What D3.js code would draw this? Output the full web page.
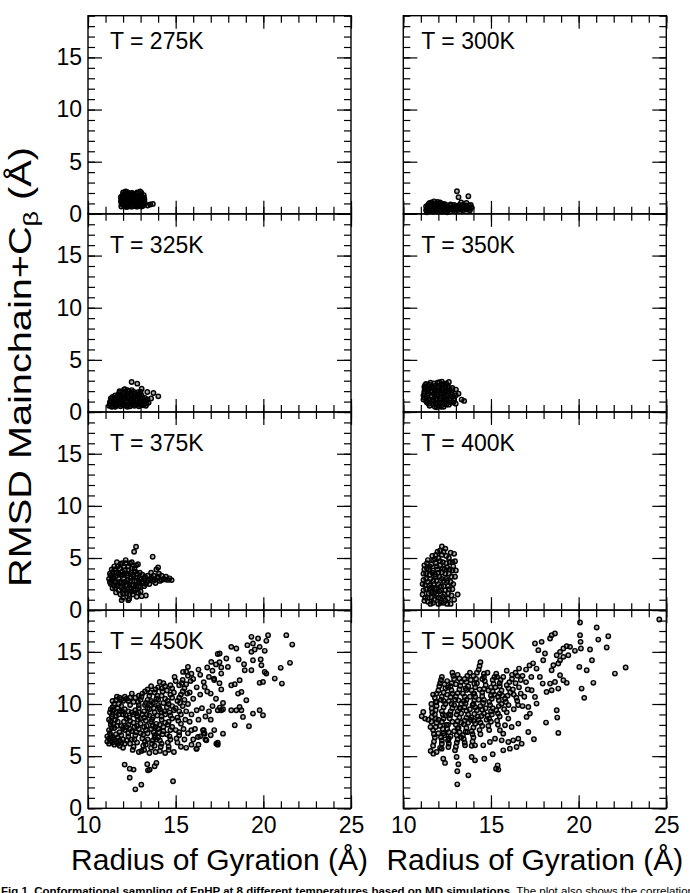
<!DOCTYPE html>
<html>
<head>
<meta charset="utf-8">
<script src="https://cdn.jsdelivr.net/npm/d3@7"></script>
<style>
  body { margin: 0; background: #fff; }
  svg { display: block; font-family: 'Liberation Sans', Arial, Helvetica, sans-serif; }
</style>
</head>
<body>
<svg id="chart" width="690" height="893"></svg>
<script>
const temps = ['275K', '300K', '325K', '350K', '375K', '400K', '450K', '500K']
const xMajor = [10, 15, 20, 25]
const xMinor = [10, 11, 12, 13, 14, 15, 16, 17, 18, 19, 20, 21, 22, 23, 24, 25]
const yMajor = [0, 5, 10, 15]
const yMinor = [0, 1, 2, 3, 4, 5, 6, 7, 8, 9, 10, 11, 12, 13, 14, 15, 16, 17, 18, 19]

// radius of gyration (A), rmsd (A)
const pts275 = [
  [11.9,0.7],[11.9,1.05],[11.92,1.4],[11.95,1.75],[12.0,2.05],
  [12.05,0.8],[12.08,1.2],[12.1,1.55],[12.12,1.9],[12.15,2.15],
  [12.22,0.65],[12.25,1.0],[12.2,1.35],[12.27,1.7],[12.3,2.0],
  [12.38,0.85],[12.4,1.2],[12.36,1.5],[12.42,1.85],
  [12.52,0.7],[12.55,1.05],[12.5,1.4],[12.58,1.7],[12.55,1.95],
  [12.68,0.8],[12.7,1.15],[12.66,1.5],[12.72,1.8],
  [12.82,0.7],[12.85,1.0],[12.8,1.35],[12.88,1.65],[12.85,2.0],
  [12.97,0.85],[13.0,1.2],[12.95,1.5],[13.02,1.85],[12.98,2.15],
  [13.12,0.75],[13.15,1.1],[13.1,1.45],[13.18,1.8],
  [13.25,1.0],[13.22,1.35],[13.55,0.9],[13.7,0.95],[13.4,0.8],
  [11.97,0.9],[11.98,1.25],[12.0,1.6],[12.03,1.9],[12.12,0.7],[12.15,1.05],[12.17,1.4],[12.2,1.75],
  [12.22,2.1],[12.3,0.8],[12.32,1.15],[12.3,1.5],[12.35,1.85],[12.45,0.7],[12.47,1.0],[12.45,1.35],
  [12.48,1.65],[12.5,2.0],[12.6,0.85],[12.62,1.2],[12.6,1.55],[12.63,1.9],[12.75,0.7],[12.77,1.05],
  [12.75,1.4],[12.78,1.7],[12.8,2.05],[12.9,0.8],[12.92,1.15],[12.9,1.45],[12.93,1.8],[13.05,0.7],
  [13.07,1.0],[13.05,1.35],[13.08,1.65],[13.05,2.0],[13.2,0.9],[13.2,1.55],[11.88,1.25],[11.87,1.6]
]

const pts300 = [
  [11.3,0.35],[11.3,0.7],[11.4,0.5],[11.45,0.95],[11.5,0.3],[11.55,0.7],[11.6,1.1],[11.65,0.45],
  [11.7,0.85],[11.75,1.2],[11.8,0.3],[11.85,0.65],[11.9,1.0],[12.0,0.45],[12.0,0.8],[12.1,1.1],
  [12.15,0.3],[12.2,0.65],[12.3,0.95],[12.35,0.4],[12.45,0.7],[12.55,0.35],[12.6,0.65],[12.7,0.9],
  [12.75,0.45],[12.85,0.7],[12.95,0.4],[13.0,0.75],[13.1,0.5],[13.2,0.85],[13.25,0.4],[13.35,0.7],
  [13.45,0.5],[13.55,0.8],[13.6,0.4],[13.7,0.65],[13.8,0.5],[13.85,0.85],[13.06,2.17],[13.15,1.6],
  [13.71,1.69],[13.3,1.1],[13.6,1.05],[11.35,0.15],[11.95,0.2],[12.5,0.15],
  [11.35,0.5],[11.4,0.8],[11.5,0.5],[11.5,1.05],[11.6,0.3],[11.6,0.85],[11.7,0.6],[11.75,1.0],
  [11.8,0.5],[11.9,0.35],[11.9,0.8],[11.95,1.15],[12.05,0.6],[12.05,1.0],[12.15,0.85],[12.25,0.45],
  [12.25,0.8],[12.4,0.55],[12.4,0.9],[12.5,0.5],[12.6,0.45],[12.65,0.8],[12.8,0.55],[12.9,0.55],
  [12.9,0.85],[13.05,0.6],[13.15,0.4],[13.15,0.7],[13.3,0.55],[13.4,0.35],[13.4,0.85],[13.5,0.65],
  [13.65,0.5],[13.75,0.8],[13.8,0.35],[13.9,0.6],[11.7,0.2],[12.2,0.2],[12.7,0.25],[13.0,0.25]
]

const pts325 = [
  [11.2,0.6],[11.25,0.95],[11.3,1.3],[11.4,0.55],[11.45,0.9],[11.5,1.25],[11.55,1.6],[11.6,0.6],
  [11.65,0.95],[11.7,1.35],[11.75,1.7],[11.8,2.0],[11.85,0.55],[11.9,0.9],[11.95,1.25],[12.0,1.6],
  [12.05,1.95],[12.1,2.2],[12.15,0.6],[12.2,0.95],[12.25,1.3],[12.3,1.65],[12.35,2.0],[12.4,0.55],
  [12.45,0.9],[12.5,1.25],[12.55,1.6],[12.6,1.95],[12.65,0.6],[12.7,0.95],[12.75,1.3],[12.8,1.65],
  [12.85,1.9],[12.9,0.55],[12.95,0.9],[13.0,1.25],[13.05,1.6],[13.15,0.65],[13.2,1.0],[13.25,1.35],
  [13.35,0.8],[13.4,1.2],[12.49,2.88],[12.81,2.72],[13.06,2.24],[13.38,1.92],[13.73,1.82],[14.01,1.5],
  [13.46,0.9],[13.6,1.3],
  [11.25,0.75],[11.3,1.1],[11.35,0.5],[11.4,1.45],[11.45,0.75],[11.5,1.05],[11.55,0.5],[11.6,1.4],
  [11.65,0.75],[11.7,1.15],[11.7,1.55],[11.8,0.7],[11.8,1.85],[11.85,1.1],[11.9,1.45],[11.95,0.7],
  [12.0,1.05],[12.0,1.8],[12.05,2.15],[12.1,0.75],[12.1,1.4],[12.2,1.1],[12.2,1.8],[12.25,0.5],
  [12.25,2.1],[12.3,1.45],[12.35,0.75],[12.4,1.1],[12.45,1.8],[12.5,0.7],[12.5,2.1],[12.55,1.4],
  [12.6,1.1],[12.7,0.75],[12.7,1.75],[12.75,1.5],[12.8,1.1],[12.85,0.7],[12.9,1.45],[12.95,1.75],
  [13.0,0.7],[13.05,1.05],[13.1,1.4],[13.2,0.8],[13.3,1.1],[13.3,0.6],[13.0,1.95]
]

const pts350 = [
  [11.15,1.2],[11.15,1.6],[11.2,2.0],[11.2,2.4],[11.3,2.7],[11.35,0.9],[11.35,1.4],[11.4,1.8],
  [11.45,2.2],[11.5,2.6],[11.5,0.6],[11.6,1.0],[11.6,1.5],[11.65,1.9],[11.7,2.3],[11.75,2.75],
  [11.8,0.5],[11.85,0.85],[11.85,1.3],[11.9,1.7],[11.95,2.1],[12.0,2.5],[12.05,2.85],[12.05,0.6],
  [12.1,1.05],[12.15,1.5],[12.2,1.9],[12.25,2.3],[12.3,2.7],[12.3,0.5],[12.35,0.9],[12.4,1.3],
  [12.45,1.7],[12.5,2.1],[12.55,2.5],[12.6,0.7],[12.65,1.1],[12.7,1.5],[12.75,1.9],[12.6,2.88],
  [12.8,2.3],[12.85,0.9],[12.9,1.3],[13.0,2.15],[13.15,1.76],[13.33,1.19],[13.47,1.06],[12.99,0.8],
  [13.0,1.6],
  [11.2,1.4],[11.2,1.8],[11.25,2.2],[11.25,2.6],[11.3,1.05],[11.4,1.6],[11.4,2.0],[11.4,2.5],
  [11.45,0.8],[11.45,1.2],[11.55,2.0],[11.55,2.8],[11.6,2.4],[11.7,0.8],[11.7,1.2],[11.75,1.7],
  [11.8,2.1],[11.8,2.5],[11.9,0.7],[11.9,1.1],[11.95,1.5],[11.95,2.8],[12.0,1.9],[12.05,2.3],
  [12.1,0.8],[12.1,1.3],[12.15,1.7],[12.2,2.1],[12.2,2.6],[12.3,1.1],[12.3,1.5],[12.35,1.9],
  [12.4,2.4],[12.45,0.7],[12.45,1.1],[12.5,1.5],[12.55,1.9],[12.6,2.3],[12.7,0.9],[12.7,1.3],
  [12.75,1.7],[12.8,2.1],[12.9,1.1],[12.85,1.5],[12.45,2.75],[12.2,2.9],[11.9,0.45],[12.15,0.5]
]

const pts375 = [
  [11.2,3.0],[11.25,3.5],[11.3,2.5],[11.35,3.9],[11.4,2.1],[11.45,3.2],[11.5,4.2],[11.55,2.7],
  [11.6,1.7],[11.6,3.6],[11.65,4.6],[11.7,2.3],[11.75,3.0],[11.8,4.0],[11.85,1.5],[11.9,2.6],
  [11.9,3.4],[11.95,4.5],[12.0,1.2],[12.0,2.0],[12.05,3.0],[12.1,3.8],[12.15,4.8],[12.2,1.6],
  [12.2,2.4],[12.25,3.3],[12.3,4.2],[12.35,1.1],[12.4,2.0],[12.4,2.8],[12.45,3.6],[12.5,4.6],
  [12.55,1.5],[12.6,2.4],[12.6,3.2],[12.65,4.0],[12.7,1.9],[12.75,2.8],[12.8,3.5],[12.85,4.4],
  [12.9,2.3],[12.95,3.1],[13.0,1.8],[13.05,2.7],[13.1,3.4],[13.2,2.3],[13.2,3.0],
  [13.35,2.7],[13.4,3.3],[13.5,2.5],[13.55,3.0],[13.6,3.6],[13.7,2.8],[13.75,3.3],[13.85,2.6],
  [13.9,3.9],[13.95,3.1],[14.05,3.5],[14.1,2.8],[14.2,3.3],[14.3,3.0],[14.45,3.2],[14.55,2.9],
  [14.77,2.88],[14.0,4.1],[12.74,6.08],[12.63,5.6],[13.69,5.12],[12.78,1.28],[13.06,1.34],[13.3,1.4],
  [11.92,0.96],[12.3,0.96],
  [11.25,2.7],[11.3,3.3],[11.35,2.9],[11.4,3.6],[11.45,2.4],[11.5,3.0],[11.5,3.9],[11.55,2.1],
  [11.6,3.3],[11.65,2.5],[11.7,4.2],[11.75,1.9],[11.75,3.5],[11.8,2.7],[11.85,4.4],[11.9,2.2],
  [11.95,3.7],[12.0,1.6],[12.0,2.5],[12.05,3.4],[12.05,4.2],[12.1,1.9],[12.1,2.7],[12.15,4.5],
  [12.2,3.5],[12.25,2.0],[12.25,2.9],[12.3,3.8],[12.35,1.5],[12.35,2.5],[12.4,4.5],[12.45,3.1],
  [12.5,1.8],[12.5,2.4],[12.5,4.0],[12.55,3.4],[12.6,2.0],[12.65,2.8],[12.7,3.7],[12.75,2.3],
  [12.75,4.3],[12.8,3.1],[12.85,1.7],[12.9,2.7],[12.95,3.6],[13.0,2.2],[13.05,3.0],[13.15,2.6],
  [13.25,3.2],[13.3,2.5],[13.45,2.85],[13.65,3.1],[13.8,2.9],[14.0,3.2],[14.2,2.9],[14.4,2.95],
  [14.65,3.05]
]

const pts400 = [
  [11.1,1.5],[11.1,2.5],[11.15,3.5],[11.2,4.3],[11.2,0.9],[11.3,2.0],[11.3,3.0],[11.35,4.0],
  [11.4,4.8],[11.4,1.2],[11.5,2.4],[11.5,3.4],[11.55,0.6],[11.6,1.7],[11.6,4.4],[11.65,5.2],
  [11.7,2.8],[11.7,3.8],[11.75,1.0],[11.8,2.1],[11.8,4.9],[11.85,3.2],[11.9,1.5],[11.9,4.2],
  [11.95,5.6],[12.0,0.6],[12.0,2.5],[12.0,3.6],[12.1,1.1],[12.1,4.7],[12.15,1.9],[12.2,3.0],
  [12.2,5.3],[12.25,4.0],[12.3,0.7],[12.3,2.3],[12.35,1.5],[12.4,3.5],[12.4,5.9],[12.45,4.5],
  [12.5,2.8],[12.55,1.1],[12.6,5.0],[12.6,2.0],[12.65,3.9],[12.75,3.2],[12.8,4.6],[12.85,2.5],
  [12.9,5.4],[13.0,3.8],[12.2,6.1],[12.7,0.6],[13.1,1.5],[12.9,1.0],
  [11.15,1.9],[11.15,2.9],[11.2,3.9],[11.25,1.2],[11.25,2.4],[11.3,3.5],[11.35,4.5],[11.4,0.8],
  [11.4,2.7],[11.45,1.6],[11.45,3.9],[11.5,2.0],[11.5,4.2],[11.55,3.0],[11.6,1.2],[11.6,2.2],
  [11.65,3.6],[11.7,4.8],[11.7,0.7],[11.75,1.6],[11.75,2.5],[11.8,3.4],[11.85,4.5],[11.85,5.3],
  [11.9,2.0],[11.9,2.8],[11.95,3.9],[12.0,1.2],[12.0,5.0],[12.05,1.8],[12.05,3.2],[12.1,4.3],
  [12.1,5.7],[12.15,2.3],[12.15,0.7],[12.2,3.6],[12.25,1.3],[12.25,4.6],[12.3,2.8],[12.3,5.6],
  [12.35,3.9],[12.4,1.9],[12.4,0.9],[12.45,3.0],[12.45,5.2],[12.5,4.1],[12.55,2.3],[12.55,1.6],
  [12.6,3.5],[12.65,4.6],[12.7,2.7],[12.75,1.4],[12.8,3.8],[12.85,4.2],[12.95,3.2],[12.7,5.5],
  [12.95,4.7],[12.5,0.6],[12.8,2.0]
]

const pts450 = [
  [11.1,6.4],[11.2,6.2],[11.2,6.7],[11.3,6.5],[11.4,6.3],[11.4,6.8],[11.5,6.1],[11.5,6.6],
  [11.6,6.4],[11.7,6.2],[11.7,6.8],[11.8,6.5],[11.9,6.3],[12.0,6.6],[12.1,6.2],[12.2,6.5],
  [11.3,7.0],[11.6,7.1],[11.9,7.0],[12.3,6.9],[11.1,6.9],[12.4,6.2],[11.8,6.0],[12.0,5.8],
  [11.2,7.5],[11.3,8.0],[11.2,8.5],[11.4,9.0],[11.3,9.5],[11.5,10.0],[11.6,10.4],[11.8,10.6],
  [12.0,10.3],[12.2,10.5],[12.4,10.6],[11.5,7.7],[11.7,8.3],[11.6,8.8],[11.8,9.3],[11.9,9.8],
  [12.1,9.5],[12.0,9.0],[12.2,8.6],[12.3,8.0],[12.1,7.5],[11.9,7.9],[12.4,9.9],[12.5,9.2],
  [11.4,9.7],[11.7,9.6],[12.6,10.2],[12.7,10.6],
  [12.6,5.9],[12.8,6.3],[12.7,7.0],[12.9,7.6],[12.6,8.2],[12.8,8.8],[12.7,9.4],[12.9,9.9],[13.0,10.4],[13.1,11.0],
  [13.2,5.6],[13.3,6.1],[13.1,6.7],[13.4,7.2],[13.2,7.8],[13.3,8.4],[13.1,9.0],[13.4,9.6],[13.3,10.1],[13.5,10.8],[13.4,11.4],
  [13.6,5.8],[13.7,6.5],[13.8,7.0],[13.6,7.6],[13.9,8.1],[13.7,8.7],[13.8,9.2],[13.6,9.9],[13.9,10.5],[13.8,11.1],[14.0,11.6],
  [14.1,5.5],[14.2,6.2],[14.0,6.8],[14.3,7.4],[14.1,8.0],[14.2,8.5],[14.4,9.0],[14.1,9.5],[14.3,10.1],[14.2,10.8],[14.5,11.3],[14.3,12.0],
  [14.6,5.9],[14.7,6.6],[14.5,7.1],[14.8,7.8],[14.6,8.3],[14.7,8.9],[14.9,9.4],[14.6,10.0],[14.8,10.6],[14.9,11.1],[14.7,11.8],[15.0,12.2],
  [15.1,6.3],[15.2,7.0],[15.0,7.5],[15.3,8.1],[15.1,8.7],[15.2,9.3],[15.4,9.8],[15.1,10.3],[15.3,10.9],[15.5,11.5],[15.4,12.3],[15.7,12.7],
  [12.9,5.4],[13.5,5.3],[14.4,5.3],[14.9,5.4],[13.0,8.1],[13.5,8.9],[14.0,9.9],[14.4,8.2],[13.8,6.0],[12.5,7.4],
  [12.4,8.4],[12.6,9.0],[12.9,9.2],[13.2,9.3],[13.5,9.5],[13.6,8.3],[13.0,8.6],[12.8,7.9],[13.3,7.5],[13.0,7.2],
  [13.7,7.9],[14.0,7.6],[13.9,6.6],[13.4,6.6],[12.5,6.6],[12.3,7.2],[12.2,7.8],[14.2,9.2],[14.5,9.7],[14.0,10.4],
  [13.6,10.3],[12.9,10.8],[12.5,11.0],[13.6,11.7],[14.2,11.5],
  [11.25,7.2],[11.35,7.7],[11.3,8.3],[11.35,8.8],[11.25,9.2],[11.45,9.4],[11.4,10.3],[11.65,10.7],[11.9,10.45],
  [12.1,10.7],[12.3,10.3],[11.45,8.1],[11.55,8.5],[11.75,9.0],[11.6,9.2],[11.75,10.0],[11.95,9.3],[12.05,8.3],
  [12.15,8.9],[12.3,9.3],[12.35,8.7],[12.4,7.6],[11.8,7.3],[11.65,7.9],[12.0,7.7],
  [12.65,6.6],[12.75,7.3],[12.65,7.8],[12.85,8.5],[12.75,9.1],[12.9,9.6],[12.85,10.2],[13.05,10.7],[13.25,11.2],
  [13.15,6.0],[13.25,6.4],[13.15,7.05],[13.35,7.9],[13.2,8.7],[13.35,9.0],[13.25,9.9],[13.4,10.4],[13.55,11.1],
  [13.65,6.2],[13.8,6.8],[13.75,7.3],[13.85,7.8],[13.65,8.5],[13.95,8.9],[13.75,9.6],[13.7,10.1],[13.95,10.8],[13.85,11.4],
  [14.15,5.9],[14.1,6.5],[14.25,7.1],[14.05,7.3],[14.3,7.8],[14.2,8.8],[14.35,9.3],[14.05,9.7],[14.4,10.5],[14.25,11.2],[14.4,11.7],
  [14.55,6.3],[14.65,6.9],[14.7,7.5],[14.55,8.0],[14.8,8.6],[14.65,9.2],[14.8,9.8],[14.55,10.3],[14.7,10.9],[14.8,11.5],
  [15.05,6.7],[15.2,7.3],[15.15,8.4],[15.3,9.0],[15.0,9.6],[15.25,10.1],[15.2,10.6],[15.4,11.2],[15.2,11.8],[15.35,12.0],
  [15.5,6.6],[15.45,7.6],[15.55,8.5],[15.6,9.3],[15.5,10.4],[15.65,11.0],[15.6,11.9],[15.85,12.2],
  [12.55,5.6],[13.05,5.5],[13.85,5.4],[14.6,5.6],[15.3,5.9],
  [15.6,5.8],[15.9,6.1],[16.2,5.7],[16.0,6.6],[16.4,6.9],[15.7,7.2],[16.1,7.6],[16.6,7.5],[15.8,8.3],[16.3,8.5],
  [16.7,8.8],[15.9,9.0],[16.2,9.4],[16.5,9.6],[16.9,9.3],[15.7,10.0],[16.0,10.5],[16.4,10.9],[16.8,11.2],[15.8,11.1],
  [16.2,11.6],[16.6,12.1],[16.0,12.4],[16.4,12.8],[16.9,12.6],[17.1,13.2],[17.3,13.8],[16.8,13.5],[17.5,14.0],[17.4,14.8],
  [17.6,13.5],[17.2,12.3],[17.5,12.0],[17.0,11.0],[17.3,10.5],[17.6,11.4],[17.1,9.8],[17.4,9.4],[17.7,9.5],[17.0,8.5],
  [17.2,7.5],[17.0,7.0],[16.6,7.2],[17.4,6.3],[16.7,6.6],[16.3,6.1],[17.4,6.1],[15.9,12.9],[16.3,13.3],[15.6,13.1],
  [19.32,16.44],[19.70,16.28],[20.27,16.6],[20.17,16.06],[21.31,16.6],[21.65,15.7],[21.52,13.95],[20.99,13.47],
  [21.06,11.96],[20.65,12.44],[20.17,12.92],[20.08,13.08],[19.98,12.12],[19.79,12.03],[19.89,13.72],[19.85,14.27],
  [20.08,15.1],[19.79,15.48],[19.51,15.23],[19.32,15.0],[19.09,15.64],[19.41,15.8],[18.46,15.32],[18.17,15.48],
  [18.59,14.27],[18.94,13.24],[18.9,13.82],[19.41,14.2],[19.32,13.24],[18.65,12.28],[18.37,11.9],[18.17,11.8],
  [18.75,11.16],[18.56,11.0],[19.03,10.36],[17.7,10.1],[17.51,9.66],[17.6,9.4],[18.17,9.4],[18.46,9.4],
  [18.75,9.4],[18.84,8.76],[18.65,9.72],[19.41,9.08],[19.79,9.4],[19.98,8.92],[18.37,7.96],[19.18,7.87],
  [17.7,7.16],[17.32,6.2],[16.75,6.52],[16.56,7.48],[16.65,7.16],[16.27,6.84],[16.18,5.72],[15.89,7.48],
  [17.03,14.04],[17.51,14.84],[17.89,14.36],[17.98,13.56],[17.6,12.92],[17.19,12.44],[16.65,11.64],[15.7,13.56],
  [15.42,13.08],[14.94,12.6],[14.09,12.12],
  [12.09,4.19],[12.38,3.8],[12.6,3.71],[12.38,2.94],[12.7,1.82],[13.04,2.27],[14.85,2.59],[13.42,3.64],
  [13.52,3.71],[13.38,4.22],[13.9,4.35],[13.8,4.03]
]

const pts500 = [
  [24.6,18.1],[20.08,17.82],[21.03,17.34],[21.12,16.18],[21.69,16.5],[21.6,15.42],[20.76,14.2],[20.65,15.23],
  [20.08,16.6],[20.11,15.96],[20.13,15.32],[19.79,15.1],[20.04,13.56],[20.46,13.24],[20.17,11.48],[20.32,10.59],
  [20.84,12.03],[22.07,12.92],[22.68,13.5],[18.65,16.76],[18.46,16.6],[18.37,16.28],[19.51,15.48],[19.32,15.55],
  [19.13,15.32],[18.94,15.0],[18.75,14.68],[19.13,14.52],[19.41,14.68],[18.94,14.2],[18.84,13.88],[18.56,13.72],
  [18.46,13.24],[18.94,12.76],[18.65,12.12],[19.13,12.28],[19.32,12.03],[18.37,11.96],[18.84,11.48],[18.46,11.32],
  [18.17,11.16],[18.75,9.4],[18.78,8.7],[18.84,7.23],[18.14,8.22],[17.45,6.62],[17.89,15.96],[17.51,15.8],
  [17.7,15.16],[18.08,14.84],[17.98,14.2],[17.6,13.4],[17.79,12.6],[17.95,11.96],[17.32,11.32],[17.51,10.68],
  [17.6,10.04],[17.13,9.72],[17.22,9.08],[17.03,8.76],[17.13,7.32],[16.56,6.68],[16.75,6.2],[16.46,5.88],
  [16.08,5.72],[16.27,6.52],[15.7,5.56],[15.61,6.52],[15.7,7.16],[15.8,7.96],[15.51,7.48],[15.99,8.6],
  [16.56,8.12],[16.18,7.8],
  [15.38,4.12],[15.29,3.8],[15.42,3.71],[13.71,3.16],[13.08,3.55],[13.08,2.3],[13.14,4.22],[13.04,4.92],
  [14.62,4.76],[15.1,5.18],[14.09,4.6],[13.9,4.92],[12.38,4.35],[12.28,4.76],[11.71,5.24],[11.56,5.5],
  [11.9,5.4],[12.19,5.72],[12.57,5.88],[12.95,5.56],[13.52,6.04],[14.09,6.04],[14.56,6.04],[14.94,6.36],
  [15.23,6.68],[15.99,6.36],
  [11.05,8.83],[11.24,8.6],[11.43,8.5],[11.62,8.76],[11.14,9.24],[11.62,9.56],
  [11.7,6.0],[11.8,6.8],[11.7,7.5],[11.9,8.2],[11.8,9.0],[11.9,9.8],[11.8,10.6],[12.0,11.3],[12.1,12.0],[12.2,12.6],
  [12.1,5.8],[12.2,6.5],[12.3,7.2],[12.1,7.9],[12.3,8.6],[12.2,9.3],[12.4,10.0],[12.2,10.7],[12.4,11.5],[12.5,12.2],
  [12.6,6.2],[12.7,6.9],[12.5,7.6],[12.8,8.3],[12.6,9.0],[12.8,9.6],[12.6,10.3],[12.8,11.0],[12.7,11.7],[12.9,12.4],[12.8,13.0],
  [13.0,5.9],[13.1,6.6],[13.2,7.3],[13.0,8.0],[13.2,8.7],[13.1,9.3],[13.3,10.0],[13.0,10.7],[13.2,11.4],[13.3,12.1],[13.1,12.8],
  [13.5,6.3],[13.4,7.0],[13.6,7.7],[13.5,8.4],[13.7,9.0],[13.5,9.7],[13.6,10.4],[13.4,11.0],[13.7,11.7],[13.5,12.4],[13.8,13.0],
  [13.9,6.0],[14.0,6.8],[13.9,7.4],[14.1,8.1],[13.9,8.7],[14.2,9.4],[14.0,10.0],[14.1,10.7],[13.9,11.3],[14.2,12.0],[14.0,12.7],[14.3,13.3],[14.4,14.0],
  [14.4,7.1],[14.5,7.9],[14.3,8.5],[14.6,9.1],[14.4,9.8],[14.6,10.4],[14.5,11.1],[14.7,11.8],[14.5,12.4],[14.8,13.0],
  [14.9,7.5],[15.0,8.3],[14.8,8.9],[15.1,9.6],[14.9,10.2],[15.2,10.9],[15.0,11.6],[15.1,12.3],[15.3,12.9],
  [15.4,8.0],[15.5,8.8],[15.3,9.4],[15.6,10.0],[15.4,10.7],[15.6,11.3],[15.5,12.0],[15.7,12.6],[15.9,13.2],
  [15.9,9.2],[16.0,9.9],[15.8,10.5],[16.1,11.1],[15.9,11.8],[16.2,12.4],[16.4,13.0],[16.6,13.4],
  [16.3,9.5],[16.5,10.3],[16.3,10.9],[16.6,11.6],[16.4,12.0],[16.8,12.7],[17.0,13.3],[17.2,13.7],[17.4,13.9],
  [16.8,9.8],[16.9,10.7],[17.1,11.4],[17.0,12.1],[17.3,12.6],
  [12.4,8.9],[12.9,9.9],[13.3,9.1],[13.8,9.5],[13.3,8.2],[12.9,7.4],[13.7,8.2],[14.3,10.4],[13.8,10.7],[12.5,10.9],
  [13.0,11.9],[14.6,12.9],[14.1,11.6],[15.0,10.8],[14.7,9.6],[12.0,8.5],[12.3,9.7],[11.9,10.2],[12.6,6.7],[13.3,6.8],
  [12.2,6.2],[12.0,7.2],
  [12.35,7.0],[12.45,8.0],[12.65,8.6],[12.75,10.0],[12.95,10.4],[13.15,7.7],[13.25,9.6],[13.45,10.3],[13.55,11.5],
  [13.65,7.3],[13.85,8.5],[13.95,9.9],[14.05,11.0],[14.25,8.8],[14.35,11.4],[14.55,10.1],[14.75,8.5],[14.85,11.3],
  [15.05,9.0],[15.25,11.6],[15.45,9.8],[15.65,10.8],[12.15,10.4],[12.55,11.6],[13.85,12.3],[14.65,12.2],[15.35,12.6],
  [11.75,6.4],[11.75,7.1],[11.85,7.8],[11.85,8.6],[11.85,9.4],[11.85,10.2],[11.9,11.0],[12.05,11.7],[12.15,12.3],
  [12.15,6.8],[12.25,7.6],[12.2,8.3],[12.25,9.0],[12.3,10.3],[12.3,11.1],[12.35,11.9],
  [12.55,6.5],[12.6,7.3],[12.55,8.0],[12.7,8.95],[12.7,9.3],[12.7,10.65],[12.75,11.3],[12.75,12.0],[12.85,12.7],
  [13.05,6.3],[13.05,7.0],[13.1,7.65],[13.1,8.35],[13.05,9.0],[13.2,9.65],[13.15,10.35],[13.1,11.05],[13.25,11.75],[13.2,12.45],
  [13.45,6.65],[13.55,7.35],[13.45,8.05],[13.6,8.7],[13.6,9.35],[13.55,10.05],[13.5,10.7],[13.6,11.35],[13.6,12.1],[13.65,12.7],
  [13.95,6.4],[13.95,7.1],[14.0,7.75],[14.0,8.4],[14.05,9.05],[14.1,9.7],[14.05,10.35],[14.0,11.0],[14.05,11.95],[14.15,12.4],
  [14.2,13.0],[14.35,13.65],[14.35,7.5],[14.4,8.2],[14.45,8.85],[14.5,9.45],[14.5,10.75],[14.6,11.45],[14.6,12.6],
  [14.85,7.9],[14.9,8.6],[15.0,9.3],[14.95,9.9],[15.05,10.5],[15.1,11.2],[15.15,11.95],[15.2,12.6],
  [15.35,8.4],[15.4,9.1],[15.45,10.35],[15.5,11.0],[15.5,11.7],[15.55,12.3],
  [15.75,9.5],[15.85,10.2],[15.95,10.8],[16.0,11.5],[16.05,12.1],[16.2,12.8],[16.5,12.7],[16.25,11.4],[16.45,10.6],[16.55,9.9],
  [16.7,11.0],[16.7,12.3],[11.55,7.8],[11.6,8.3],[11.65,9.2],[11.6,10.0],[11.7,10.9]
]

const series = [pts275, pts300, pts325, pts350, pts375, pts400, pts450, pts500]

const W = 263
const H = 198.15
const colX = [88, 403.3]
const topY = 15.7

const svg = d3.select('#chart')

const x = d3.scaleLinear()
    .domain([10, 25])
    .range([0, W])

const y = d3.scaleLinear()
    .domain([0, 19])
    .range([H, 0])

function clean(g) {
  g.select('.domain').remove()
  g.attr('font-family', null)
      .attr('font-size', 23)
  g.selectAll('line')
      .attr('stroke', '#000')
      .attr('stroke-width', 1.2)
  g.selectAll('text')
      .attr('fill', '#000')
}

temps.forEach((t, i) => {
  const col = i % 2
  const row = Math.floor(i / 2)

  const panel = svg.append('g')
      .attr('transform', `translate(${colX[col]},${topY + row * H})`)

  // points first so the frame sits on top; faint fill lets overlaps go solid
  panel.append('g')
    .selectAll('circle')
    .data(series[i])
    .join('circle')
      .attr('cx', d => x(d[0]))
      .attr('cy', d => y(d[1]))
      .attr('r', 2.2)
      .attr('fill', '#000')
      .attr('fill-opacity', 0.3)
      .attr('stroke', '#000')
      .attr('stroke-width', 1.45)

  // minor ticks, all four sides
  panel.append('g')
      .attr('transform', `translate(0,${H})`)
      .call(d3.axisBottom(x).tickValues(xMinor).tickSize(-7).tickFormat(''))
      .call(clean)
  panel.append('g')
      .call(d3.axisTop(x).tickValues(xMinor).tickSize(-7).tickFormat(''))
      .call(clean)
  panel.append('g')
      .call(d3.axisLeft(y).tickValues(yMinor).tickSize(-7).tickFormat(''))
      .call(clean)
  panel.append('g')
      .attr('transform', `translate(${W},0)`)
      .call(d3.axisRight(y).tickValues(yMinor).tickSize(-7).tickFormat(''))
      .call(clean)

  // major ticks, labels only on the outer edges
  panel.append('g')
      .attr('transform', `translate(0,${H})`)
      .call(d3.axisBottom(x).tickValues(xMajor).tickSize(-13).tickPadding(8)
        .tickFormat(row === 3 ? d3.format('d') : ''))
      .call(clean)
  panel.append('g')
      .call(d3.axisTop(x).tickValues(xMajor).tickSize(-13).tickFormat(''))
      .call(clean)
  panel.append('g')
      .call(d3.axisLeft(y).tickValues(yMajor).tickSize(-14).tickPadding(6)
        .tickFormat(col === 0 ? d3.format('d') : ''))
      .call(clean)
  panel.append('g')
      .attr('transform', `translate(${W},0)`)
      .call(d3.axisRight(y).tickValues(yMajor).tickSize(-14).tickFormat(''))
      .call(clean)

  panel.append('rect')
      .attr('width', W)
      .attr('height', H)
      .attr('fill', 'none')
      .attr('stroke', '#000')
      .attr('stroke-width', 1.4)

  panel.append('text')
      .attr('x', col ? 18 : 22)
      .attr('y', row ? 39 : 33)
      .attr('font-size', 23)
      .text('T = ' + t)
})

colX.forEach(cx => {
  svg.append('text')
      .attr('x', cx + W / 2)
      .attr('y', 870)
      .attr('text-anchor', 'middle')
      .attr('font-size', 30)
      .text('Radius of Gyration (Å)')
})

// the reference label is drawn longer than its glyph height implies
const yTitle = svg.append('text')
    .attr('transform', 'translate(31,367) rotate(-90)')
    .attr('text-anchor', 'middle')
    .attr('font-size', 31)
    .attr('textLength', 440)
    .attr('lengthAdjust', 'spacingAndGlyphs')

yTitle.append('tspan').text('RMSD Mainchain+C')
yTitle.append('tspan')
    .attr('dy', 7)
    .attr('font-size', 21)
    .text('β')
yTitle.append('tspan')
    .attr('dy', -7)
    .text(' (Å)')

const caption = svg.append('text')
    .attr('x', 1)
    .attr('y', 895)
    .attr('font-size', 11.5)

caption.append('tspan')
    .attr('font-weight', 'bold')
    .text('Fig 1. Conformational sampling of FnHP at 8 different temperatures based on MD simulations.')
caption.append('tspan')
    .text(' The plot also shows the correlation between')
</script>
</body>
</html>
